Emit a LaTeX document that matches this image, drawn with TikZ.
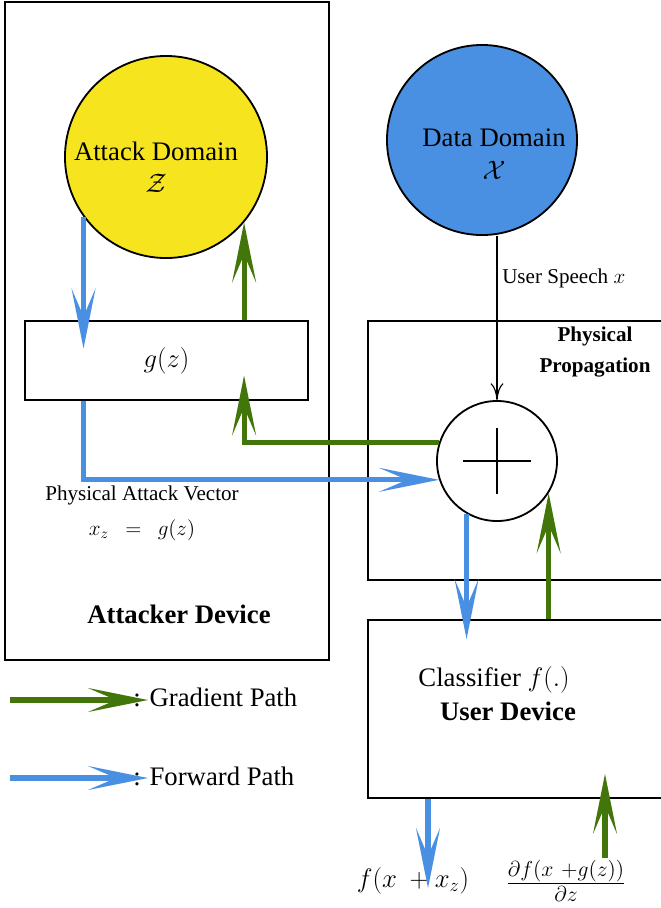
\RequirePackage{fix-cm}
\documentclass[tikz,border=0pt]{standalone}
\usepackage{fontspec}
\setmainfont{Liberation Serif}
\usetikzlibrary{arrows.meta,calc}
\definecolor{attackyellow}{RGB}{246,228,30}
\definecolor{datablue}{RGB}{74,144,226}
\definecolor{pathblue}{RGB}{74,144,226}
\definecolor{pathgreen}{RGB}{66,117,10}
\begin{document}
\begin{tikzpicture}[x=0.025cm,y=-0.025cm,
  every node/.style={font=\fontsize{19}{23}\selectfont},
  small/.style={font=\fontsize{15}{18}\selectfont},
  boldlabel/.style={font=\fontsize{19}{23}\selectfont\bfseries},
  block/.style={draw,line width=1.3pt,inner sep=0pt},
  domaincircle/.style={circle,draw,line width=1.3pt,inner sep=0pt},
  sumnode/.style={circle,draw,line width=1.3pt,inner sep=0pt,minimum size=3cm,
    path picture={\draw[line width=1pt]
      ([xshift=-0.85cm]path picture bounding box.center) -- ([xshift=0.85cm]path picture bounding box.center)
      ([yshift=-0.83cm]path picture bounding box.center) -- ([yshift=0.83cm]path picture bounding box.center);}},
  fwd/.style={pathblue,line width=3.6pt,-{Stealth[length=1.5cm,width=0.6cm,inset=0.7cm]}},
  grad/.style={pathgreen,line width=3.6pt,-{Stealth[length=1.5cm,width=0.6cm,inset=0.7cm]}},
  speech/.style={line width=0.8pt,-{To[length=0.42cm,width=0.32cm]}}]
\useasboundingbox (0,0) rectangle (661,908);

% attacker side
\node[block,minimum width=8.1cm,minimum height=16.45cm] (attacker) at (167,331) {};
\node[domaincircle,fill=attackyellow,minimum size=5.05cm,
  label={[align=center,xshift=-0.25cm,yshift=-0.25cm]center:{Attack Domain\\$\mathcal{Z}$}}] (attack) at (166,157) {};
\node[block,minimum width=7.075cm,minimum height=1.975cm] (gbox) at (166.5,360.5) {$g(z)$};
\node[small] (vectorlabel) at (142,495) {Physical Attack Vector};
\node[small] (vectormath) at (142,530) {$x_z\ \ =\ \ g(z)$};
\node[boldlabel] (attackerlabel) at (179,614) {Attacker Device};

% user side
\node[domaincircle,fill=datablue,minimum size=4.75cm,
  label={[align=center,xshift=0.3cm,yshift=-0.35cm]center:{Data Domain\\$\mathcal{X}$}}] (data) at (482,140) {};
\node[block,minimum width=8.8cm,minimum height=6.475cm] (prop) at (544,450.5) {};
\node[align=center,font=\fontsize{15}{22}\selectfont\bfseries] (proplabel) at (595,352) {Physical\\Propagation};
\node[sumnode] (sum) at (497,461) {};
\node[block,minimum width=8.8cm,minimum height=4.45cm] (user) at (544,709) {};
\node (classifier) at (494,680) {Classifier $f(.)$};
\node[boldlabel] (userlabel) at (508,711) {User Device};
\node (fout) at (413,881) {$f(x\ +x_z)$};
\node[font=\fontsize{22}{26}\selectfont] (gradout) at (566,881) {$\frac{\partial f(x\ +g(z))}{\partial z}$};
\coordinate (fwdend) at (428,888);
\coordinate (gradstart) at (605,858);

% legend
\node[anchor=west,inner sep=0pt] (leggrad) at (133,697) {: Gradient Path};
\node[anchor=west,inner sep=0pt] (legfwd) at (133,776) {: Forward Path};
\coordinate (leggradstart) at (10,700);
\coordinate (legfwdstart) at (10,778);

% paths
\draw[speech] (sum.north |- data.south) -- (sum.north)
  node[small,pos=0.26,right] (speechlabel) {User Speech $x$};
\draw[fwd,shorten >=0.3cm] (attack.216) -- (attack.216 |- gbox.center);
\draw[grad] (attack.-40 |- gbox.north) -- (attack.-40);
\draw[fwd] (attack.216 |- gbox.south) |- (sum.198);
\draw[grad,shorten >=0.375cm] (sum.162) -| (attack.-40 |- gbox.center);
\draw[fwd,shorten >=-0.5cm] (sum.-120) -- (sum.-120 |- user.north);
\draw[grad] (sum.-32 |- user.north) -- (sum.-32);
\draw[fwd] (fwdend |- user.south) -- (fwdend);
\draw[grad,shorten >=-0.625cm] (gradstart) -- (gradstart |- user.south);
\draw[grad,shorten >=-0.375cm] (leggradstart) -- (leggradstart -| leggrad.west);
\draw[fwd,shorten >=-0.375cm] (legfwdstart) -- (legfwdstart -| legfwd.west);
\end{tikzpicture}
\end{document}
